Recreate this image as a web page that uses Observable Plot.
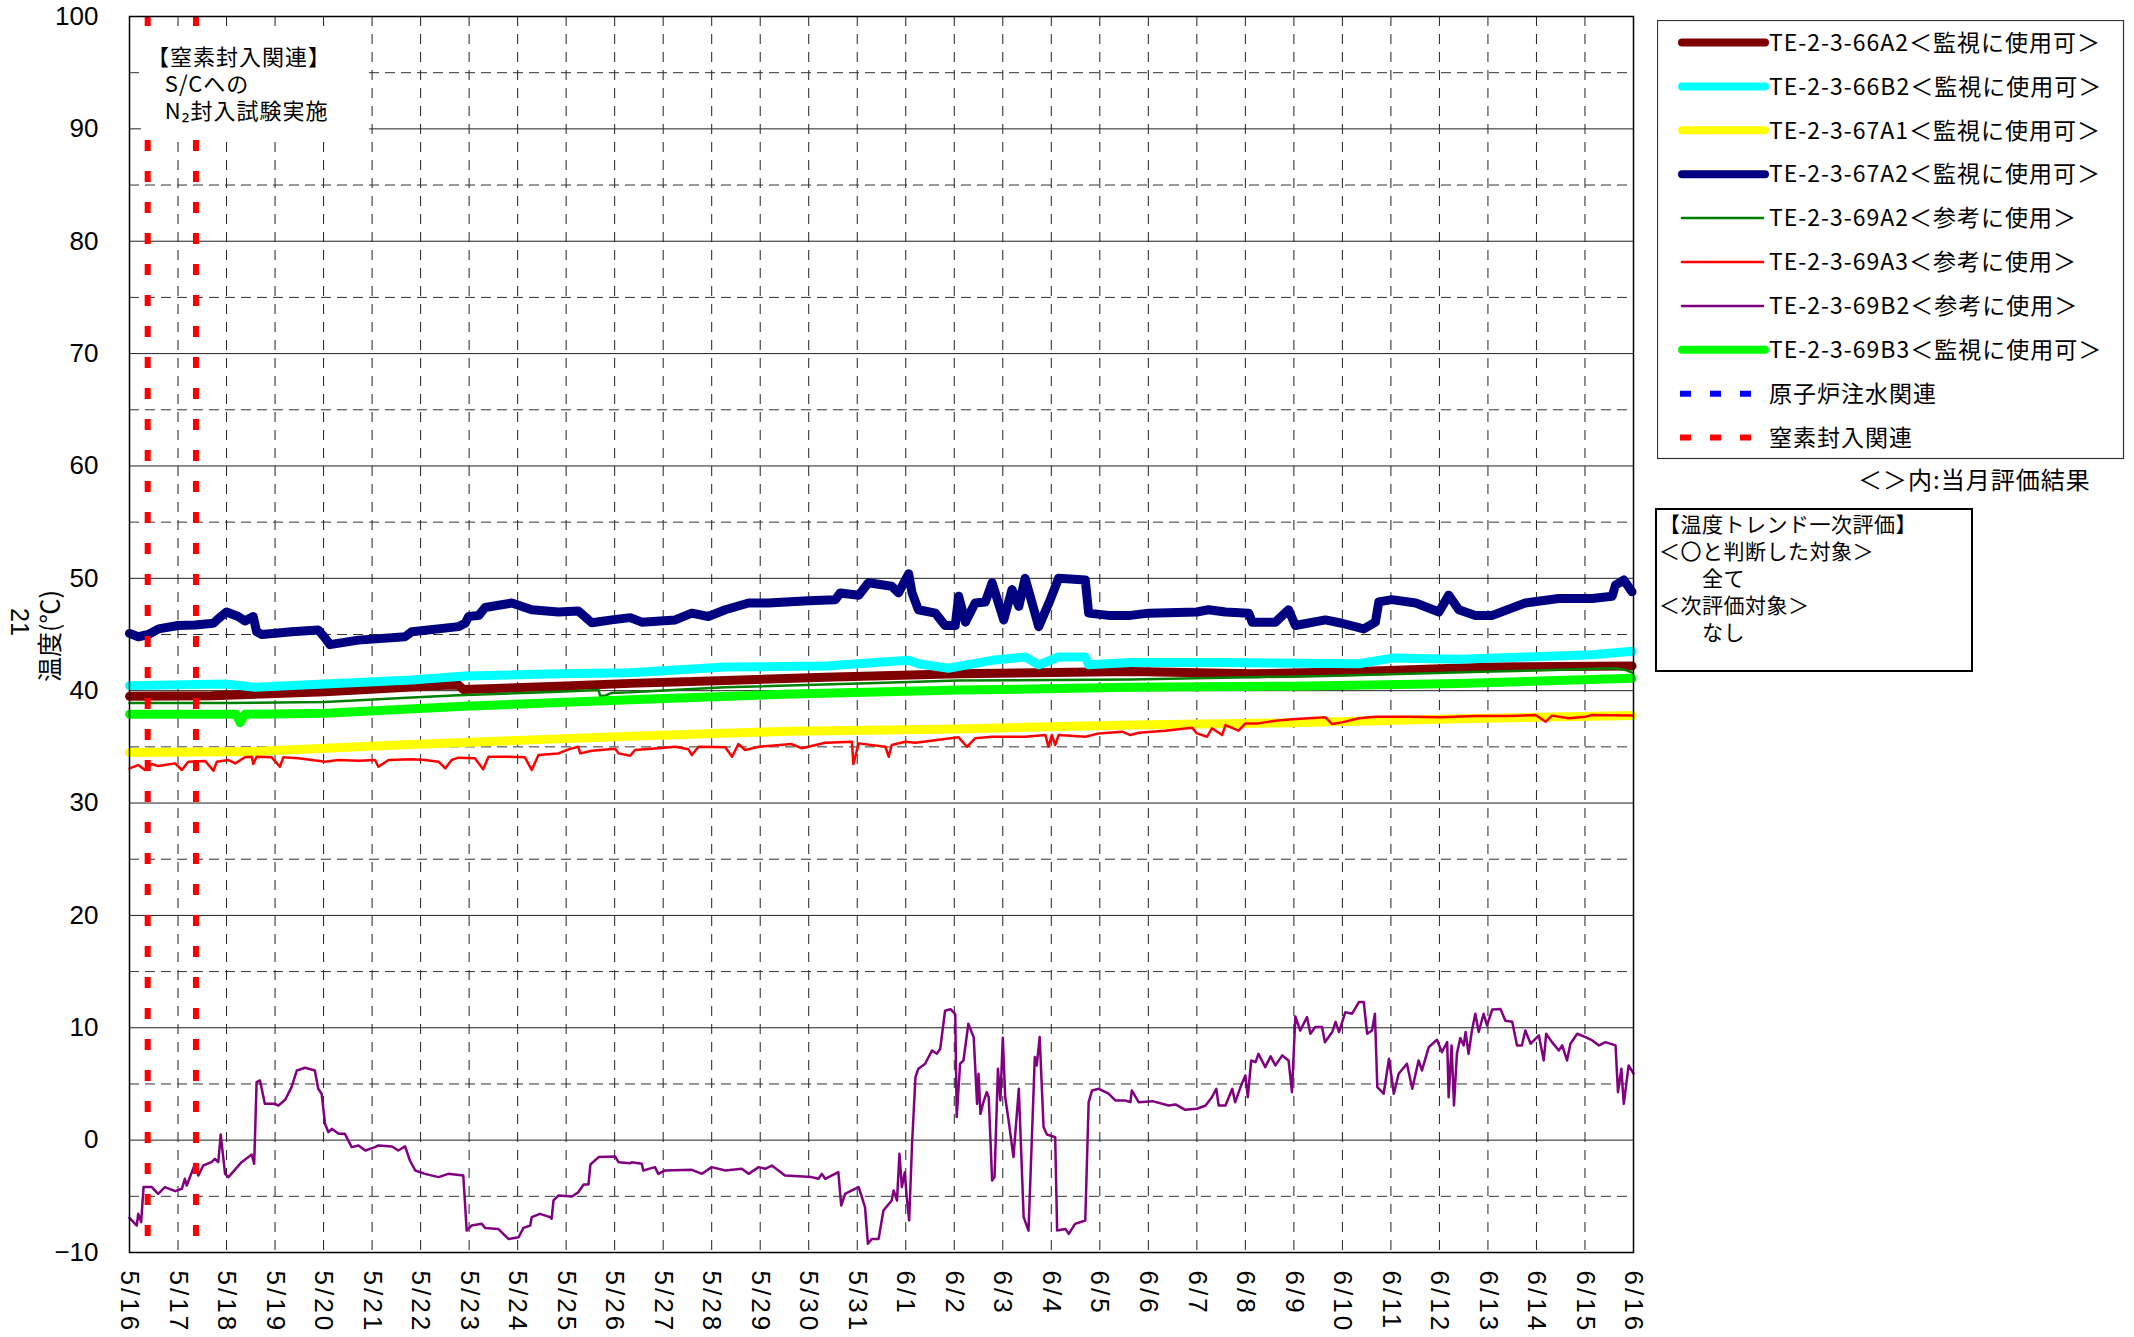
<!DOCTYPE html>
<html><head><meta charset="utf-8">
<script src="https://cdn.jsdelivr.net/npm/d3@7"></script>
<script src="https://cdn.jsdelivr.net/npm/@observablehq/plot@0.6"></script>
<style>
body{margin:0;background:#fff;}
#wrap{position:relative;width:2134px;height:1337px;overflow:hidden;background:#fff;}
#wrap > svg{position:absolute;left:0;top:0;}
.abs{position:absolute;white-space:nowrap;color:#000;}
</style></head><body><div id="wrap"></div>
<script>
// ---- tick labels / categories ----
const xTickLabels = ["5/16","5/17","5/18","5/19","5/20","5/21","5/22","5/23","5/24","5/25","5/26","5/27","5/28","5/29","5/30","5/31","6/1","6/2","6/3","6/4","6/5","6/6","6/7","6/8","6/9","6/10","6/11","6/12","6/13","6/14","6/15","6/16"];
const yTicks = [-10,0,10,20,30,40,50,60,70,80,90,100];
const yMinor = [-5,5,15,25,35,45,55,65,75,85,95];
// nitrogen injection events (day offset from 5/16 0:00)
const n2Events = [0.375, 1.37];
const waterEvents = [];

// ---- series: [day offset from 5/16, °C] ----
const s66A2 = [[0,39.5],[1.69,39.55],[4.03,39.9],[6.37,40.45],[6.78,40.5],[6.88,40.1],[8.84,40.4],[10.32,40.65],[12.28,40.9],[14.34,41.2],[17.09,41.5],[20.63,41.7],[23.14,41.5],[25.34,41.7],[28.09,42.1],[30.97,42.2]];
const s66B2 = [[0,40.45],[1.97,40.6],[2.59,40.3],[4.03,40.6],[5.82,40.95],[6.92,41.3],[8.84,41.5],[10.32,41.6],[12.28,42.1],[14.34,42.2],[16.06,42.7],[16.26,42.4],[16.88,42.0],[17.78,42.7],[18.46,43.0],[18.74,42.3],[19.15,43.0],[19.7,43.0],[19.77,42.3],[20.63,42.5],[22.59,42.5],[25.34,42.4],[26.02,42.9],[27.4,42.8],[28.77,43.0],[30.15,43.2],[30.97,43.5]];
const s67A1 = [[0,34.5],[2.66,34.6],[5.41,35.15],[8.16,35.6],[10.32,35.95],[13.65,36.4],[17.09,36.6],[20.63,36.95],[23.96,37.15],[27.4,37.5],[30.97,37.8]];
const s67A2 = [[0,45.1],[0.18,44.8],[0.39,45.0],[0.6,45.5],[1.0,45.8],[1.35,45.85],[1.73,46.0],[1.83,46.4],[2.0,47.0],[2.24,46.6],[2.38,46.2],[2.55,46.6],[2.62,45.25],[2.73,45.0],[3.34,45.25],[3.89,45.4],[4.03,44.7],[4.13,44.1],[4.72,44.5],[5.68,44.8],[5.82,45.25],[6.78,45.7],[6.92,46.0],[6.99,46.6],[7.2,46.7],[7.33,47.4],[7.88,47.8],[8.29,47.2],[8.84,47.0],[9.25,47.1],[9.46,46.3],[9.53,46.05],[9.94,46.3],[10.32,46.5],[10.56,46.1],[11.25,46.3],[11.59,46.9],[11.93,46.6],[12.28,47.2],[12.76,47.8],[13.17,47.8],[13.99,48.0],[14.55,48.1],[14.65,48.7],[15.03,48.5],[15.23,49.6],[15.71,49.3],[15.85,48.7],[16.06,50.4],[16.13,48.7],[16.26,47.2],[16.61,46.9],[16.81,45.8],[17.02,45.8],[17.09,48.4],[17.23,46.1],[17.43,47.8],[17.64,47.9],[17.78,49.6],[18.02,46.3],[18.19,49.0],[18.33,47.5],[18.46,50.0],[18.74,45.7],[18.95,47.8],[19.15,50.0],[19.7,49.85],[19.77,46.9],[20.18,46.7],[20.63,46.7],[21.01,46.9],[22.0,47.0],[22.24,47.2],[22.59,47.0],[23.07,46.9],[23.14,46.1],[23.62,46.1],[23.89,47.2],[24.03,45.8],[24.65,46.3],[24.99,46.0],[25.44,45.5],[25.68,46.1],[25.75,47.9],[26.02,48.1],[26.51,47.8],[26.99,47.0],[27.19,48.5],[27.4,47.2],[27.74,46.7],[28.09,46.7],[28.77,47.8],[29.46,48.2],[30.15,48.2],[30.56,48.4],[30.63,49.4],[30.8,49.85],[30.97,48.8]];
const s69A2 = [[0,38.9],[2.0,38.9],[4.03,39.0],[5.82,39.4],[6.78,39.6],[8.84,39.9],[9.67,40.05],[9.7,39.55],[9.8,39.55],[9.94,39.8],[10.32,39.85],[12.28,40.3],[15.03,40.65],[17.09,40.9],[20.63,41.0],[23.07,41.2],[24.65,41.3],[28.09,41.7],[30.63,42.0],[30.83,41.85],[30.97,41.6]];
const s69A3 = [[0,33.09],[0.18,33.38],[0.32,32.94],[0.46,33.47],[0.59,33.29],[0.94,33.53],[1.08,32.94],[1.21,33.68],[1.56,33.74],[1.73,32.88],[1.8,33.68],[2.04,33.83],[2.18,33.53],[2.38,34.07],[2.52,34.12],[2.55,33.47],[2.62,34.12],[2.93,34.07],[3.1,33.23],[3.17,34.07],[3.48,33.98],[3.76,33.83],[4.03,33.68],[4.31,33.83],[4.72,33.77],[5.06,33.83],[5.13,33.23],[5.34,33.83],[5.82,33.89],[6.09,33.83],[6.37,33.68],[6.51,33.09],[6.64,33.83],[6.78,34.04],[7.12,33.98],[7.29,33.0],[7.4,34.12],[7.81,34.12],[8.15,34.07],[8.29,32.94],[8.43,34.27],[8.84,34.42],[9.05,34.78],[9.25,35.01],[9.29,34.42],[9.53,34.66],[10.01,34.84],[10.08,34.42],[10.32,34.21],[10.42,34.72],[10.9,34.87],[11.25,35.01],[11.52,34.78],[11.59,34.27],[11.73,35.01],[12.28,34.96],[12.42,34.12],[12.55,35.25],[12.69,34.72],[12.97,35.01],[13.65,35.25],[13.86,34.87],[14.34,35.37],[14.89,35.46],[14.92,33.47],[15.03,35.31],[15.58,35.01],[15.65,34.12],[15.71,35.16],[15.99,35.46],[16.2,35.37],[17.09,35.85],[17.26,35.01],[17.43,35.76],[17.78,35.9],[18.46,35.9],[18.88,36.05],[18.94,35.01],[19.01,36.05],[19.08,35.16],[19.15,36.05],[19.7,35.9],[19.98,36.2],[20.46,36.35],[20.63,36.05],[20.8,36.26],[21.35,36.44],[21.9,36.71],[22.0,36.2],[22.21,35.9],[22.31,36.65],[22.52,36.05],[22.59,36.94],[22.86,36.44],[23.0,37.09],[23.27,37.09],[23.62,37.33],[23.96,37.45],[24.65,37.63],[24.79,37.03],[24.99,37.18],[25.34,37.54],[25.68,37.69],[26.37,37.69],[27.05,37.63],[27.74,37.75],[28.43,37.75],[28.98,37.83],[29.19,37.24],[29.32,37.78],[29.67,37.54],[30.01,37.69],[30.15,37.83],[30.97,37.8]];
const s69B2 = [[0,-6.91],[0.15,-7.6],[0.18,-6.56],[0.24,-7.3],[0.29,-4.18],[0.46,-4.18],[0.59,-4.78],[0.73,-4.18],[0.94,-4.54],[1.08,-4.33],[1.14,-3.44],[1.18,-4.04],[1.35,-2.11],[1.42,-3.15],[1.52,-2.26],[1.69,-1.96],[1.76,-1.66],[1.83,-1.96],[1.88,0.5],[1.97,-3.0],[2.04,-3.29],[2.31,-1.96],[2.52,-1.28],[2.57,-2.11],[2.62,5.16],[2.69,5.31],[2.79,3.23],[3.0,3.23],[3.07,3.08],[3.21,3.59],[3.34,4.72],[3.45,6.2],[3.62,6.44],[3.82,6.2],[3.89,4.57],[3.96,4.13],[4.03,1.45],[4.1,0.71],[4.17,1.01],[4.31,0.56],[4.44,0.56],[4.58,-0.62],[4.72,-0.47],[4.86,-0.92],[5.06,-0.62],[5.13,-0.47],[5.41,-0.56],[5.54,-0.92],[5.68,-0.56],[5.78,-1.81],[5.89,-2.7],[6.09,-3.0],[6.37,-3.29],[6.57,-3.0],[6.88,-3.15],[6.95,-8.05],[7.05,-7.6],[7.26,-7.45],[7.33,-7.81],[7.6,-7.9],[7.81,-8.79],[8.02,-8.64],[8.12,-7.81],[8.26,-7.6],[8.29,-6.85],[8.46,-6.56],[8.67,-6.85],[8.7,-7.0],[8.74,-5.37],[8.84,-4.93],[9.12,-5.01],[9.25,-4.63],[9.36,-3.95],[9.46,-3.95],[9.5,-2.17],[9.67,-1.51],[10.01,-1.45],[10.08,-1.96],[10.32,-2.05],[10.35,-1.96],[10.56,-2.11],[10.59,-2.7],[10.83,-2.4],[10.9,-3.0],[11.04,-2.7],[11.59,-2.64],[11.8,-3.0],[12.0,-2.4],[12.28,-2.7],[12.62,-2.55],[12.76,-3.0],[12.97,-2.4],[13.1,-2.55],[13.24,-2.26],[13.51,-3.15],[14.06,-3.29],[14.2,-3.44],[14.27,-3.0],[14.34,-3.44],[14.61,-2.85],[14.67,-5.82],[14.75,-4.78],[14.89,-4.48],[15.03,-4.18],[15.16,-5.96],[15.22,-9.23],[15.3,-8.79],[15.44,-8.79],[15.54,-6.26],[15.71,-5.37],[15.75,-4.48],[15.82,-5.37],[15.87,-1.21],[15.92,-4.18],[15.98,-2.85],[16.02,-5.07],[16.07,-7.15],[16.13,-0.32],[16.2,5.61],[16.26,6.35],[16.4,6.8],[16.54,7.98],[16.64,7.68],[16.71,8.13],[16.81,11.51],[16.92,11.66],[17.02,11.21],[17.05,2.05],[17.12,6.8],[17.19,7.09],[17.29,10.36],[17.4,9.17],[17.47,3.23],[17.5,5.91],[17.54,2.34],[17.6,3.38],[17.67,4.27],[17.71,3.82],[17.78,-3.59],[17.83,-3.29],[17.9,6.35],[17.95,3.53],[18.0,9.11],[18.05,3.82],[18.12,1.75],[18.22,-1.51],[18.33,4.57],[18.43,-6.85],[18.53,-8.05],[18.66,7.39],[18.7,6.65],[18.76,9.17],[18.84,1.16],[18.91,0.5],[19.08,0.26],[19.12,-8.05],[19.29,-7.9],[19.36,-8.34],[19.49,-7.45],[19.7,-7.15],[19.77,3.38],[19.84,4.42],[19.98,4.57],[20.18,4.13],[20.32,3.53],[20.52,3.53],[20.63,3.38],[20.66,4.42],[20.8,3.38],[21.08,3.47],[21.42,3.08],[21.56,3.18],[21.76,2.7],[22.0,2.79],[22.18,3.08],[22.31,3.82],[22.4,4.57],[22.45,3.08],[22.59,3.08],[22.73,4.57],[22.79,3.38],[22.9,4.72],[23.0,5.76],[23.05,3.82],[23.12,7.09],[23.21,6.94],[23.27,7.68],[23.41,6.5],[23.52,7.45],[23.62,6.65],[23.76,7.54],[23.89,7.09],[23.96,4.27],[24.03,11.01],[24.13,9.76],[24.27,10.95],[24.34,9.47],[24.44,10.06],[24.58,10.06],[24.64,8.72],[24.79,9.62],[24.86,10.53],[24.93,9.62],[25.06,11.39],[25.2,11.25],[25.34,12.29],[25.44,12.29],[25.51,9.47],[25.61,9.76],[25.67,11.25],[25.72,4.72],[25.85,4.13],[25.96,7.24],[26.06,4.13],[26.16,5.91],[26.33,6.8],[26.44,4.57],[26.57,7.09],[26.64,6.2],[26.78,8.28],[26.95,8.93],[27.05,7.83],[27.16,8.72],[27.19,3.82],[27.25,8.43],[27.3,3.08],[27.36,7.68],[27.43,9.08],[27.5,8.43],[27.54,9.62],[27.6,7.68],[27.67,9.76],[27.74,11.25],[27.81,9.62],[27.91,11.25],[27.98,10.21],[28.09,11.63],[28.26,11.66],[28.36,10.62],[28.5,10.53],[28.6,8.43],[28.7,8.43],[28.77,9.76],[28.88,8.58],[29.05,9.32],[29.15,7.09],[29.2,9.47],[29.32,8.72],[29.46,7.98],[29.53,8.43],[29.63,7.09],[29.7,8.58],[29.84,9.47],[30.01,9.17],[30.15,8.87],[30.29,8.43],[30.42,8.72],[30.63,8.43],[30.68,4.27],[30.75,6.35],[30.8,3.23],[30.9,6.65],[31.0,5.91]];
const s69B3 = [[0,37.9],[2.0,37.9],[2.2,37.9],[2.28,37.15],[2.38,37.9],[4.03,38.0],[6.78,38.6],[10.32,39.2],[13.65,39.7],[17.09,40.05],[20.63,40.3],[23.96,40.4],[27.4,40.65],[30.97,41.1]];

const seriesNames = ["TE-2-3-66A2＜監視に使用可＞","TE-2-3-66B2＜監視に使用可＞","TE-2-3-67A1＜監視に使用可＞","TE-2-3-67A2＜監視に使用可＞","TE-2-3-69A2＜参考に使用＞","TE-2-3-69A3＜参考に使用＞","TE-2-3-69B2＜参考に使用＞","TE-2-3-69B3＜監視に使用可＞"];
const seriesColors = ["#800000","#00ffff","#ffff00","#000080","#008000","#ff0000","#800080","#00ff00"];
const seriesWidths = [9,9,9,9,2.5,2.5,2.5,9];
const seriesData = [s66A2,s66B2,s67A1,s67A2,s69A2,s69A3,s69B2,s69B3];

const jp = "'Noto Sans CJK JP','Noto Sans',sans-serif";
const lat = "'Liberation Sans',Arial,sans-serif";

const days = d3.range(0, 32);
const lineMarks = seriesData.map((s, i) => Plot.line(s, {x: d => d[0], y: d => d[1], stroke: seriesColors[i], strokeWidth: seriesWidths[i], strokeLinejoin: "round", strokeLinecap: "round"}));

const chart = Plot.plot({
  width: 2134, height: 1337,
  marginLeft: 129, marginRight: 501, marginTop: 16, marginBottom: 85,
  x: {domain: [0, 31]},
  y: {domain: [-10, 100]},
  style: {background: "transparent"},
  marks: [
    Plot.ruleX(days.slice(1, 31), {stroke: "#222", strokeWidth: 1, strokeDasharray: "10,8"}),
    Plot.ruleY(yMinor, {stroke: "#333", strokeWidth: 1, strokeDasharray: "10,6"}),
    Plot.ruleY(yTicks, {stroke: "#222", strokeWidth: 1}),
    ...lineMarks,
    Plot.ruleX(waterEvents, {stroke: "#0000ff", strokeWidth: 6, strokeDasharray: "11,20"}),
    Plot.ruleX(n2Events, {stroke: "#ff0000", strokeWidth: 6, strokeDasharray: "11,20"}),
    Plot.frame({stroke: "#000", strokeWidth: 1.5}),
    Plot.axisY(yTicks, {tickSize: 0, tickPadding: 31, fontSize: 26, fontFamily: lat, label: null, fill: "#000"}),
    Plot.axisX(days, {tickSize: 0, tickPadding: 18, tickRotate: 90, fontSize: 26, fontFamily: lat, label: null, fill: "#000", tickFormat: i => xTickLabels[i]})
  ]
});
const wrap = document.getElementById("wrap");
wrap.appendChild(chart);
d3.select(chart).selectAll("g[aria-label='x-axis tick label'] text").style("letter-spacing", "3px");

// annotation box (top-left), one multi-line text block
const ann = document.createElement("div");
ann.className = "abs";
ann.style.cssText = `left:141px;top:26px;width:228px;height:114px;background:#fff;font-family:${jp};font-size:22px;line-height:27px;letter-spacing:1px;white-space:pre;padding:16px 0 0 6px;box-sizing:border-box;`;
ann.textContent = "【窒素封入関連】\n   S/Cへの\n   N₂封入試験実施";
wrap.appendChild(ann);

// y axis titles
const yl = document.createElement("div");
yl.className = "abs";
yl.style.cssText = `left:48px;top:636px;transform:translate(-50%,-50%) rotate(-90deg);font-family:${jp};font-size:25px;`;
yl.textContent = "温度(℃)";
wrap.appendChild(yl);
const yn = document.createElement("div");
yn.className = "abs";
yn.style.cssText = `left:19px;top:622px;transform:translate(-50%,-50%) rotate(90deg);font-family:${lat};font-size:25px;`;
yn.textContent = "21";
wrap.appendChild(yn);

// legend
const legNames = [...seriesNames, "原子炉注水関連", "窒素封入関連"];
const legColors = [...seriesColors, "#0000ff", "#ff0000"];
const legWidths = [...seriesWidths, 6, 6];
const leg = d3.create("svg").attr("width", 470).attr("height", 445)
  .style("position", "absolute").style("left", "1657px").style("top", "20px");
leg.append("rect").attr("x", 0.5).attr("y", 0.5).attr("width", 466).attr("height", 438).attr("fill", "#fff").attr("stroke", "#333").attr("stroke-width", 1.2);
legNames.forEach((n, i) => {
  const y = 22.5 + i * 43.9;
  const dashed = i >= 8;
  const thick = legWidths[i] > 4;
  leg.append("line").attr("x1", dashed ? 23 : 25).attr("x2", dashed ? 96 : (thick ? 108 : 106))
    .attr("y1", y).attr("y2", y).attr("stroke", legColors[i]).attr("stroke-width", dashed ? 6 : (thick ? 8 : 2.5))
    .attr("stroke-linecap", dashed ? "butt" : "round")
    .attr("stroke-dasharray", dashed ? "11,19" : null);
  leg.append("text").attr("x", 112).attr("y", y).attr("dy", "0.36em").attr("font-family", jp).attr("font-size", 23).attr("letter-spacing", "1px").text(n);
});
wrap.appendChild(leg.node());

const note = document.createElement("div");
note.className = "abs";
note.style.cssText = `left:1858px;top:465px;font-family:${jp};font-size:24px;line-height:28px;letter-spacing:1px;`;
note.textContent = "＜＞内:当月評価結果";
wrap.appendChild(note);

const box = document.createElement("div");
box.className = "abs";
box.style.cssText = `left:1655px;top:508px;width:312px;height:160px;border:2px solid #000;font-family:${jp};font-size:21px;line-height:27px;background:#fff;letter-spacing:0.5px;white-space:pre;padding:0 0 0 2px;box-sizing:content-box;`;
box.textContent = "【温度トレンド一次評価】\n＜〇と判断した対象＞\n　　全て\n＜次評価対象＞\n　　なし";
wrap.appendChild(box);
</script></body></html>
